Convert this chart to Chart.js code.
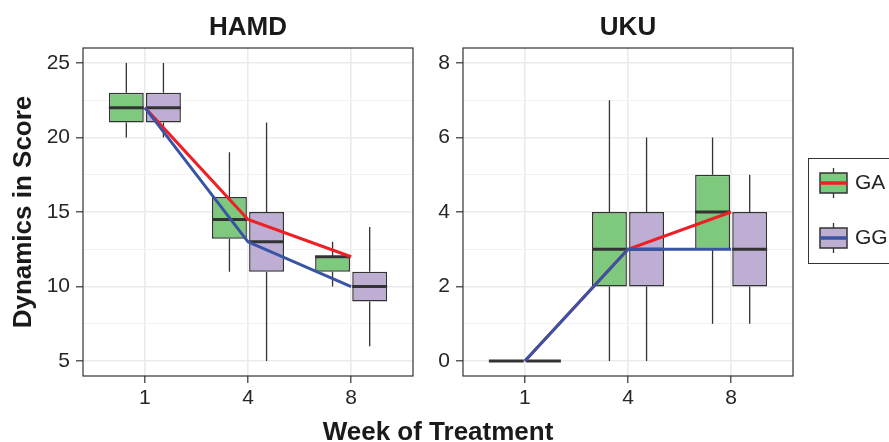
<!DOCTYPE html>
<html>
<head>
<meta charset="utf-8">
<script src="https://cdn.jsdelivr.net/npm/chart.js@4.4.1/dist/chart.umd.min.js"></script>
<style>
  body { margin: 0; background: #fff; }
  #wrap { position: relative; width: 889px; height: 442px; font-family: "Liberation Sans", Arial, sans-serif; }
  #hamd { position: absolute; left: 0; top: 0; }
  #uku { position: absolute; left: 420px; top: 0; }
  #xtitle { position: absolute; left: 83px; width: 710px; top: 416px; line-height: 30px; text-align: center; font-weight: bold; font-size: 26px; color: #1a1a1a; }
</style>
</head>
<body>
<div id="wrap">
  <canvas id="hamd" width="420" height="442"></canvas>
  <canvas id="uku" width="469" height="442"></canvas>
  <div id="xtitle">Week of Treatment</div>
</div>
<script>
const weeks = ["1", "4", "8"]
const groups = ["GA", "GG"]

// boxplot summaries per week: [min, q1, median, q3, max]
const hamdGA = [[20, 21, 22, 23, 25], [11, 13.2, 14.5, 16, 19], [10, 11, 12, 12, 13]]
const hamdGG = [[20, 21, 22, 23, 25], [5, 11, 13, 15, 21], [6, 9, 10, 11, 14]]
const ukuGA = [[0, 0, 0, 0, 0], [0, 2, 3, 4, 7], [1, 3, 4, 5, 6]]
const ukuGG = [[0, 0, 0, 0, 0], [0, 2, 3, 4, 6], [1, 2, 3, 4, 5]]

const hamdTicks = [5, 10, 15, 20, 25]
const ukuTicks = [0, 2, 4, 6, 8]
const hamdRange = [4, 26]
const ukuRange = [-0.4, 8.4]

const boxFill = { GA: "#7fc97f", GG: "#beaed4" }
const lineColor = { GA: "#ee1f25", GG: "#3953a5" }
const ink = "#333333"
const FONT = "'Liberation Sans', Arial, sans-serif"

// whiskers under the boxes, medians on top of them, frame around the panel
const boxWhiskers = {
  id: "boxWhiskers",
  beforeDatasetsDraw(chart) {
    const { ctx } = chart
    const y = chart.scales.y
    chart.data.datasets.forEach((ds, di) => {
      if (!ds.stats) return
      chart.getDatasetMeta(di).data.forEach((bar, i) => {
        const s = ds.stats[i]
        ctx.save()
        ctx.strokeStyle = ink
        ctx.lineWidth = 1.3
        ctx.beginPath()
        ctx.moveTo(bar.x, y.getPixelForValue(s[4]))
        ctx.lineTo(bar.x, y.getPixelForValue(s[3]))
        ctx.moveTo(bar.x, y.getPixelForValue(s[1]))
        ctx.lineTo(bar.x, y.getPixelForValue(s[0]))
        ctx.stroke()
        ctx.restore()
      })
    })
  },
  afterDatasetDraw(chart, args) {
    const ds = chart.data.datasets[args.index]
    if (!ds.stats) return
    const { ctx } = chart
    const y = chart.scales.y
    args.meta.data.forEach((bar, i) => {
      const py = y.getPixelForValue(ds.stats[i][2])
      ctx.save()
      ctx.strokeStyle = ink
      ctx.lineWidth = 3
      ctx.beginPath()
      ctx.moveTo(bar.x - bar.width / 2, py)
      ctx.lineTo(bar.x + bar.width / 2, py)
      ctx.stroke()
      ctx.restore()
    })
  },
  afterDraw(chart) {
    const { ctx, chartArea: a } = chart
    ctx.save()
    ctx.strokeStyle = ink
    ctx.lineWidth = 1.2
    ctx.strokeRect(a.left, a.top, a.right - a.left, a.bottom - a.top)
    ctx.restore()
  },
}

// legend with small boxplot keys, right of the second panel
const boxLegend = {
  id: "boxLegend",
  afterDraw(chart) {
    const { ctx, chartArea } = chart
    const left = chartArea.right + 15
    const top = chartArea.top + 110
    ctx.save()
    ctx.strokeStyle = ink
    ctx.lineWidth = 1
    ctx.strokeRect(left + 0.5, top + 0.5, 200, 105)
    groups.forEach((g, k) => {
      const cy = top + 25 + k * 55
      const gx = left + 12
      const gw = 27
      ctx.strokeStyle = ink
      ctx.lineWidth = 1.3
      ctx.beginPath()
      ctx.moveTo(gx + gw / 2, cy - 15)
      ctx.lineTo(gx + gw / 2, cy + 15)
      ctx.stroke()
      ctx.fillStyle = boxFill[g]
      ctx.fillRect(gx, cy - 10, gw, 20)
      ctx.lineWidth = 1.5
      ctx.strokeRect(gx, cy - 10, gw, 20)
      ctx.strokeStyle = lineColor[g]
      ctx.lineWidth = 3.5
      ctx.beginPath()
      ctx.moveTo(gx, cy)
      ctx.lineTo(gx + gw, cy)
      ctx.stroke()
      ctx.fillStyle = "#262626"
      ctx.font = "21px " + FONT
      ctx.textBaseline = "middle"
      ctx.fillText(g, left + 47, cy)
    })
    ctx.restore()
  },
}

function makePanel(canvasId, title, gaStats, ggStats, range, majorTicks, axisWidth, padRight, yTitle, extraPlugins) {
  const step = majorTicks[1] - majorTicks[0]
  const minorTicks = majorTicks.slice(0, -1).map((t) => t + step / 2)
  const allTicks = majorTicks.concat(minorTicks).sort((a, b) => a - b)
  const isMajor = (v) => majorTicks.includes(v)

  const barSet = (g, stats) => ({
    type: "bar",
    label: g,
    stats: stats,
    data: stats.map((s, i) => ({ x: i + 1, y: [s[1], s[3]] })),
    backgroundColor: boxFill[g],
    borderColor: ink,
    borderWidth: 1.5,
    borderSkipped: false,
    categoryPercentage: 0.72,
    barPercentage: 0.94,
    order: 2,
  })
  const lineSet = (g, stats, order) => ({
    type: "line",
    label: g,
    data: stats.map((s, i) => ({ x: i + 1, y: s[2] })),
    borderColor: lineColor[g],
    borderWidth: 3,
    pointRadius: 0,
    tension: 0,
    order: order,
  })

  return new Chart(document.getElementById(canvasId), {
    type: "bar",
    data: {
      datasets: [
        lineSet("GG", ggStats, 0),
        lineSet("GA", gaStats, 1),
        barSet("GA", gaStats),
        barSet("GG", ggStats),
      ],
    },
    options: {
      responsive: false,
      animation: false,
      devicePixelRatio: 1,
      layout: { padding: { left: 0, right: padRight, top: 0, bottom: 0 } },
      plugins: {
        legend: { display: false },
        tooltip: { enabled: false },
        title: {
          display: true,
          text: title,
          fullSize: false,
          color: "#1a1a1a",
          font: { family: FONT, size: 26, weight: "bold" },
          padding: { top: 12, bottom: 4.8 },
        },
      },
      scales: {
        x: {
          type: "linear",
          min: 0.4,
          max: 3.6,
          offset: false,
          afterBuildTicks: (s) => { s.ticks = weeks.map((w, i) => ({ value: i + 1 })) },
          afterFit: (s) => { s.height = 66 },
          ticks: {
            autoSkip: false,
            maxRotation: 0,
            padding: 3,
            color: "#262626",
            font: { family: FONT, size: 21 },
            callback: (v, i) => weeks[i],
          },
          grid: { offset: false, color: "#ebebeb", lineWidth: 1.6, tickColor: ink, tickWidth: 1.2, tickLength: 7 },
          border: { display: false },
        },
        y: {
          type: "linear",
          min: range[0],
          max: range[1],
          afterBuildTicks: (s) => { s.ticks = allTicks.map((v) => ({ value: v })) },
          afterFit: (s) => { s.width = axisWidth },
          ticks: {
            padding: 6,
            color: "#262626",
            font: { family: FONT, size: 21 },
            callback: (v) => (isMajor(v) ? String(v) : ""),
          },
          grid: {
            color: (c) => (isMajor(c.tick.value) ? "#ebebeb" : "#f2f2f2"),
            lineWidth: (c) => (isMajor(c.tick.value) ? 1.6 : 1),
            tickColor: (c) => (isMajor(c.tick.value) ? ink : "rgba(0,0,0,0)"),
            tickWidth: 1.2,
            tickLength: 7,
          },
          border: { display: false },
          title: {
            display: !!yTitle,
            text: yTitle || "",
            color: "#1a1a1a",
            font: { family: FONT, size: 26, weight: "bold" },
            padding: { top: 8, bottom: 0 },
          },
        },
      },
    },
    plugins: [boxWhiskers].concat(extraPlugins),
  })
}

makePanel("hamd", "HAMD", hamdGA, hamdGG, hamdRange, hamdTicks, 83, 7, "Dynamics in Score", [])
makePanel("uku", "UKU", ukuGA, ukuGG, ukuRange, ukuTicks, 43, 96, null, [boxLegend])
</script>
</body>
</html>
